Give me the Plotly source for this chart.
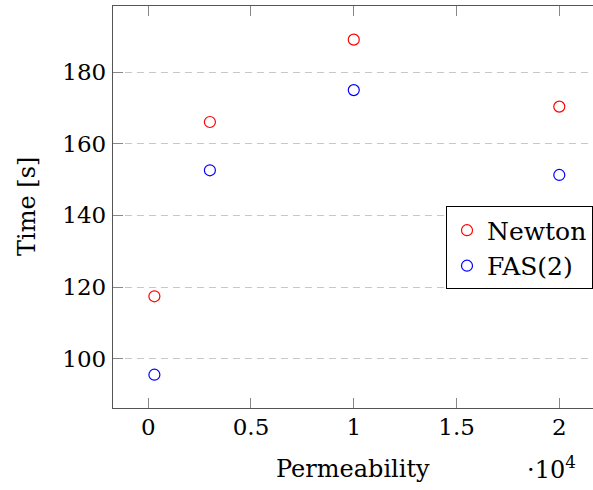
import plotly.graph_objects as go

# Solver run times versus permeability
permeability = [300, 3000, 10000, 20000]
newton_time = [117.4, 166.1, 189.1, 170.4]
fas_time = [95.5, 152.6, 175.0, 151.3]

x_tick_vals = [0, 5000, 10000, 15000, 20000]
x_tick_text = ["0", "0.5", "1", "1.5", "2"]
y_tick_vals = [100, 120, 140, 160, 180]
y_tick_text = ["100", "120", "140", "160", "180"]

FONT = "DejaVu Serif"

fig = go.Figure()
fig.add_trace(go.Scatter(
    x=permeability, y=newton_time, mode="markers", name="Newton",
    marker=dict(symbol="circle-open", size=11, color="#ff0000", line=dict(width=1.2)),
))
fig.add_trace(go.Scatter(
    x=permeability, y=fas_time, mode="markers", name="FAS(2)",
    marker=dict(symbol="circle-open", size=11, color="#0000ff", line=dict(width=1.2)),
))

axis_common = dict(
    showline=True, linecolor="#555555", linewidth=1.3,
    ticks="inside", tickcolor="#888888", ticklen=10, tickwidth=1.3,
    tickfont=dict(family=FONT, size=23, color="black"),
    zeroline=False,
)

fig.update_xaxes(
    range=[-1714, 21640],
    tickvals=x_tick_vals, ticktext=x_tick_text,
    showgrid=False, mirror="ticks", ticklabelstandoff=-2,
    **axis_common,
)
fig.update_yaxes(
    range=[86.2, 198.5],
    tickvals=y_tick_vals, ticktext=y_tick_text,
    showgrid=True, gridcolor="#c8c8c8", gridwidth=1.2, griddash="7px,5px",
    ticklabelstandoff=1,
    **axis_common,
)

fig.update_layout(
    width=593, height=490,
    margin=dict(l=113, r=0, t=6, b=82, autoexpand=False),
    plot_bgcolor="white", paper_bgcolor="white",
    showlegend=True,
    legend=dict(
        xref="container", yref="container",
        x=1.011, xanchor="right", y=0.494, yanchor="middle",
        bordercolor="black", borderwidth=1, bgcolor="white",
        font=dict(family=FONT, size=25, color="black"),
        itemwidth=30, tracegroupgap=0,
    ),
    annotations=[
        dict(text="Time [s]", xref="paper", yref="paper", x=0, y=0.5,
             xanchor="center", yanchor="middle",
             xshift=-86, textangle=-90, showarrow=False,
             font=dict(family=FONT, size=24, color="black")),
        dict(text="Permeability", xref="paper", yref="paper", x=0.5, y=0,
             xanchor="center", yanchor="middle",
             yshift=-61, showarrow=False,
             font=dict(family=FONT, size=24, color="black")),
        dict(text="·10<sup>4</sup>", xref="paper", yref="paper", x=0.9125, y=0,
             xanchor="center", yanchor="middle",
             yshift=-60, showarrow=False,
             font=dict(family=FONT, size=24, color="black")),
    ],
)

fig.write_html("out.html")
